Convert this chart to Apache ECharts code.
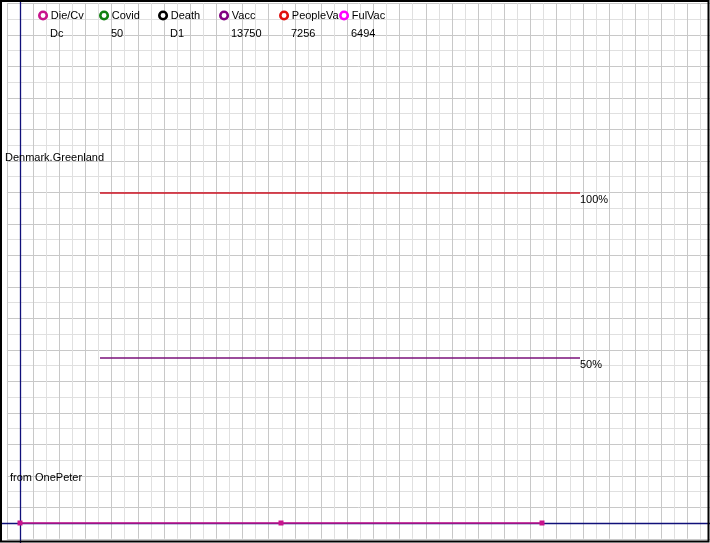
<!DOCTYPE html>
<html><head><meta charset="utf-8">
<script src="https://cdn.jsdelivr.net/npm/echarts@6/dist/echarts.min.js"></script>
<style>html,body{margin:0;padding:0;background:#fff}#c{width:710px;height:543px}</style>
</head><body><div id="c"></div>
<script>
// ---- data ----
const legendNames = ['Die/Cv', 'Covid', 'Death', 'Vacc', 'PeopleVa', 'FulVac'];
const legendValues = ['Dc', '50', 'D1', '13750', '7256', '6494'];
const xPoints = [0, 1, 2];
const dieCvValues = [0, 0, 0];
const refLevels = [100, 50];
const refLabels = ['100%', '50%'];
const refStartX = 0.3065;
const refEndX = 2.1456;
const placeLabel = 'Denmark.Greenland';
const sourceLabel = 'from OnePeter';

// ---- styles ----
const legendColors = ['#c8148c', '#108010', '#000000', '#800080', '#e01010', '#ff00ff'];
const refColors = ['#cc1020', '#7a107a'];
const legendLeft = [38, 99, 158, 219, 279, 339];
const FONT = '"Liberation Sans", Arial, sans-serif';
const navy = '#10107a';

const chart = echarts.init(document.getElementById('c'), null, { renderer: 'canvas' });

const series = [];
series.push({
  name: 'Die/Cv', type: 'line', xAxisIndex: 1, yAxisIndex: 1,
  data: xPoints.map((x, i) => [x, dieCvValues[i]]),
  symbol: 'rect', symbolSize: 5, showSymbol: true,
  itemStyle: { color: legendColors[0] },
  lineStyle: { color: legendColors[0], width: 1.5 },
  z: 5, animation: false
});
for (let i = 1; i < legendNames.length; i++) {
  series.push({
    name: legendNames[i], type: 'line', xAxisIndex: 1, yAxisIndex: 1,
    data: [], itemStyle: { color: legendColors[i] }, animation: false
  });
}
refLevels.forEach((lv, i) => {
  series.push({
    name: refLabels[i], type: 'line', xAxisIndex: 1, yAxisIndex: 1,
    data: [[refStartX, lv], [refEndX, lv]],
    showSymbol: false, symbol: 'none',
    lineStyle: { color: refColors[i], width: 1.3 },
    endLabel: { show: true, formatter: refLabels[i], distance: 0, offset: [0, 7],
      color: '#000', fontSize: 11, fontFamily: FONT },
    animation: false, silent: true
  });
});

const legends = legendNames.map((n, i) => ({
  data: [{ name: n, icon: 'circle', itemStyle: { color: '#fff', borderColor: legendColors[i], borderWidth: 2.6 } }],
  left: legendLeft[i], top: 10, itemWidth: 7.5, itemHeight: 7.5, itemGap: 0, padding: 0,
  selectedMode: false,
  textStyle: { color: '#000', fontSize: 11, fontFamily: FONT, padding: [0, 0, 0, -1] }
}));

const titles = legendValues.map((v, i) => ({
  text: v, left: legendLeft[i] + 12, top: 28, padding: 0,
  textStyle: { color: '#000', fontSize: 11, fontWeight: 'normal', fontFamily: FONT }
}));
titles.push({ text: placeLabel, left: 5, top: 152, padding: 0,
  textStyle: { color: '#000', fontSize: 11, fontWeight: 'normal', fontFamily: FONT } });
titles.push({ text: sourceLabel, left: 10, top: 472, padding: 0,
  textStyle: { color: '#000', fontSize: 11, fontWeight: 'normal', fontFamily: FONT } });

const hidden = { axisLine: { show: false }, axisTick: { show: false }, axisLabel: { show: false } };
const gridColors = ['#c8c8c8', '#e0e0e0'];

chart.setOption({
  animation: false,
  backgroundColor: '#fff',
  title: titles,
  legend: legends,
  grid: [
    { left: 6.91, right: 0, top: 3.25, bottom: 4.25 },
    { left: 0, right: 0, top: 0, bottom: 0 }
  ],
  xAxis: [
    Object.assign({ type: 'value', gridIndex: 0, min: 0, max: 703.09, interval: 13.09,
      splitLine: { show: true, lineStyle: { color: gridColors, width: 1 } } }, hidden),
    { type: 'value', gridIndex: 1, min: -20 / 261, max: 690 / 261,
      axisLine: { show: true, onZero: true, lineStyle: { color: navy, width: 1.3 } },
      axisTick: { show: false }, axisLabel: { show: false }, splitLine: { show: false } }
  ],
  yAxis: [
    Object.assign({ type: 'value', gridIndex: 0, min: 0, max: 535.5, interval: 15.75,
      splitLine: { show: true, lineStyle: { color: gridColors, width: 1 } } }, hidden),
    { type: 'value', gridIndex: 1, min: -20 / 3.3, max: 523 / 3.3,
      axisLine: { show: true, onZero: true, lineStyle: { color: navy, width: 1.3 } },
      axisTick: { show: false }, axisLabel: { show: false }, splitLine: { show: false } }
  ],
  series: series,
  graphic: [{
    type: 'rect', shape: { x: 1, y: 1, width: 707.5, height: 540.5 },
    style: { fill: 'none', stroke: '#000', lineWidth: 2 }, z: 100, silent: true
  }]
});
</script>
</body></html>
